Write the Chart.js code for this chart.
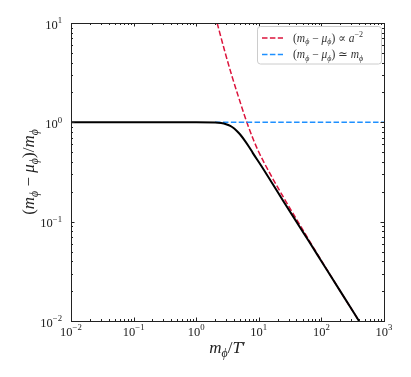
<!DOCTYPE html>
<html><head><meta charset="utf-8">
<script src="https://cdn.jsdelivr.net/npm/chart.js@4"></script>
<style>html,body{margin:0;padding:0;background:#fff}canvas{display:block}</style>
</head><body>
<canvas id="c" width="411" height="377"></canvas>
<script>
// ---- data ----
const blackX = [0.01, 0.1, 1, 2, 2.5, 3, 3.5, 4, 4.5, 5.04, 6.05, 7, 8, 11, 15.2, 25, 45.6, 62, 100, 200, 399];
const blackY = [1, 1, 1, 0.996, 0.983, 0.958, 0.92, 0.871, 0.814, 0.754, 0.647, 0.565, 0.493, 0.363, 0.263, 0.159, 0.0875, 0.0645, 0.04, 0.02, 0.01];
const redX = [2.16, 2.92, 3.75, 4.73, 6.44, 8.24, 9.65, 11.55, 17.2, 26.3, 41.0, 64.7, 100, 200, 400];
const redY = [10, 4.95, 2.88, 1.81, 1.0, 0.664, 0.526, 0.418, 0.2626, 0.165, 0.103, 0.0638, 0.0405, 0.02, 0.01];
const blueX = [2, 1000];
const blueY = [1, 1];
const xTickValues = [0.01, 0.1, 1, 10, 100, 1000];
const xTickExps = ['−2', '−1', '0', '1', '2', '3'];
const yTickValues = [0.01, 0.1, 1, 10];
const yTickExps = ['−2', '−1', '0', '1'];
const seriesColors = ['#dc143c', '#1e90ff', '#000000'];

const SERIF = '"Liberation Serif", "DejaVu Serif", serif';

function pts(xs, ys) { return xs.map((v, i) => ({x: v, y: ys[i]})); }

function fontFor(kind, size) {
  if (kind === 'r') return `${size}px ${SERIF}`;
  if (kind === 'i') return `italic ${size}px ${SERIF}`;
  if (kind === 'sb') return `italic ${size * 0.7}px ${SERIF}`;
  if (kind === 'sp') return `${size * 0.7}px ${SERIF}`;
}
function dyFor(kind, size) {
  if (kind === 'sb') return size * 0.22;
  if (kind === 'sp') return -size * 0.42;
  return 0;
}
function mathWidth(ctx, segs, size) {
  let w = 0;
  for (const [t, k] of segs) { ctx.font = fontFor(k, size); w += ctx.measureText(t).width; }
  return w;
}
function drawMath(ctx, segs, x, y, align, size, color) {
  const w = mathWidth(ctx, segs, size);
  let cx = align === 'center' ? x - w / 2 : align === 'right' ? x - w : x;
  ctx.fillStyle = color || '#000';
  ctx.textAlign = 'left';
  ctx.textBaseline = 'alphabetic';
  for (const [t, k] of segs) {
    ctx.font = fontFor(k, size);
    ctx.fillText(t, cx, y + dyFor(k, size));
    cx += ctx.measureText(t).width;
  }
}

const legendSegs = [
  [['(', 'r'], ['m', 'i'], ['ϕ', 'sb'], [' − ', 'r'], ['μ', 'i'], ['ϕ', 'sb'], [')', 'r'], [' ∝ ', 'r'], ['a', 'i'], ['−2', 'sp']],
  [['(', 'r'], ['m', 'i'], ['ϕ', 'sb'], [' − ', 'r'], ['μ', 'i'], ['ϕ', 'sb'], [')', 'r'], [' ≃ ', 'r'], ['m', 'i'], ['ϕ', 'sb']]
];
const xTitleSegs = [['m', 'i'], ['ϕ', 'sb'], ['/', 'r'], ['T', 'i'], ['′', 'r']];
const yTitleSegs = [['(', 'r'], ['m', 'i'], ['ϕ', 'sb'], [' − ', 'r'], ['μ', 'i'], ['ϕ', 'sb'], [')', 'r'], ['/', 'r'], ['m', 'i'], ['ϕ', 'sb']];

const decor = {
  id: 'decor',
  afterDraw(chart) {
    const {ctx, chartArea: a, scales: {x, y}} = chart;
    ctx.save();
    // frame
    ctx.strokeStyle = '#222';
    ctx.lineWidth = 1;
    ctx.strokeRect(Math.round(a.left) + 0.5, Math.round(a.top) + 0.5, Math.round(a.right - a.left), Math.round(a.bottom - a.top));
    // ticks
    const majL = 3.5, minL = 2;
    ctx.beginPath();
    const xt = [], yt = [];
    xTickValues.forEach((v, i) => {
      xt.push([v, true]);
      if (i < xTickValues.length - 1) for (let m = 2; m <= 9; m++) xt.push([v * m, false]);
    });
    yTickValues.forEach((v, i) => {
      yt.push([v, true]);
      if (i < yTickValues.length - 1) for (let m = 2; m <= 9; m++) yt.push([v * m, false]);
    });
    for (const [v, maj] of xt) {
      const px = Math.round(x.getPixelForValue(v)) + 0.5;
      const L = maj ? majL : minL;
      ctx.moveTo(px, a.bottom); ctx.lineTo(px, a.bottom - L);
      ctx.moveTo(px, a.top); ctx.lineTo(px, a.top + L);
    }
    for (const [v, maj] of yt) {
      const py = Math.round(y.getPixelForValue(v)) + 0.5;
      const L = maj ? majL : minL;
      ctx.moveTo(a.left, py); ctx.lineTo(a.left + L, py);
      ctx.moveTo(a.right, py); ctx.lineTo(a.right - L, py);
    }
    ctx.stroke();
    // tick labels
    xTickValues.forEach((v, i) => {
      const px = x.getPixelForValue(v);
      drawMath(ctx, [['10', 'r'], [xTickExps[i], 'sp']], px, a.bottom + 14.5, 'center', 12.5, '#222');
    });
    yTickValues.forEach((v, i) => {
      const py = y.getPixelForValue(v);
      drawMath(ctx, [['10', 'r'], [yTickExps[i], 'sp']], a.left - 9, py + 5.5, 'right', 12.5, '#222');
    });
    // axis titles
    drawMath(ctx, xTitleSegs, (a.left + a.right) / 2, 353, 'center', 17, '#222');
    ctx.save();
    ctx.translate(34, (a.top + a.bottom) / 2);
    ctx.rotate(-Math.PI / 2);
    drawMath(ctx, yTitleSegs, 0, 0, 'center', 17, '#222');
    ctx.restore();
    // legend
    const bx = 257.5, by = 26.5, bw = 124, bh = 37.5;
    ctx.beginPath();
    ctx.roundRect(bx, by, bw, bh, 3);
    ctx.fillStyle = 'rgba(255,255,255,0.8)';
    ctx.fill();
    ctx.strokeStyle = '#cccccc';
    ctx.lineWidth = 1;
    ctx.stroke();
    const rowsY = [38, 54.5];
    [0, 1].forEach(i => {
      ctx.beginPath();
      ctx.setLineDash([5.5, 2.4]);
      ctx.strokeStyle = seriesColors[i];
      ctx.lineWidth = 1.5;
      ctx.moveTo(262, rowsY[i]); ctx.lineTo(283, rowsY[i]);
      ctx.stroke();
      ctx.setLineDash([]);
      drawMath(ctx, legendSegs[i], 293, rowsY[i] + 3.5, 'left', 11.5, '#333');
    });
    ctx.restore();
  }
};

new Chart(document.getElementById('c'), {
  type: 'scatter',
  data: {
    datasets: [
      {data: pts(redX, redY), showLine: true, borderColor: seriesColors[0], borderWidth: 1.5, borderDash: [5.5, 2.4], pointRadius: 0, cubicInterpolationMode: 'monotone', clip: 0, order: 2},
      {data: pts(blueX, blueY), showLine: true, borderColor: seriesColors[1], borderWidth: 1.5, borderDash: [5.5, 2.4], pointRadius: 0, clip: 0, order: 1},
      {data: pts(blackX, blackY), showLine: true, borderColor: seriesColors[2], borderWidth: 2, pointRadius: 0, cubicInterpolationMode: 'monotone', clip: 0, order: 0}
    ]
  },
  options: {
    responsive: false,
    animation: false,
    devicePixelRatio: 1,
    layout: {padding: {left: 71, right: 27, top: 23, bottom: 56}},
    plugins: {legend: {display: false}, tooltip: {enabled: false}},
    scales: {
      x: {type: 'logarithmic', min: 0.01, max: 1000, display: false},
      y: {type: 'logarithmic', min: 0.01, max: 10, display: false}
    }
  },
  plugins: [decor]
});
</script>
</body></html>
